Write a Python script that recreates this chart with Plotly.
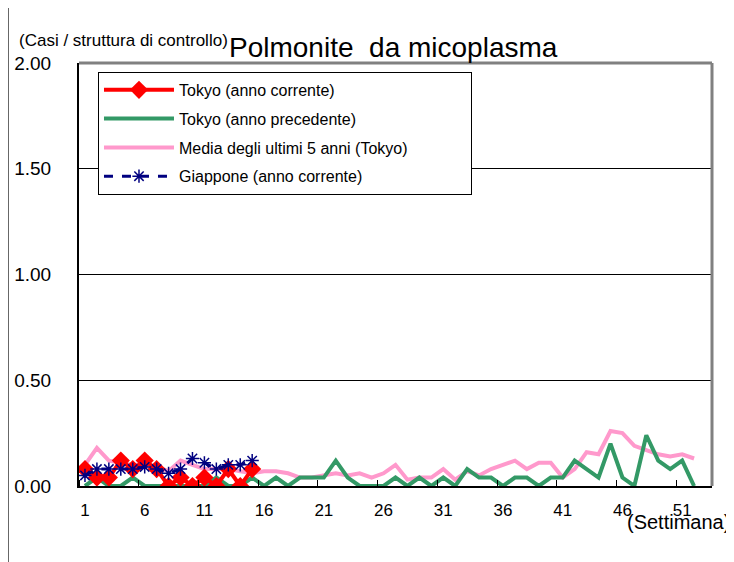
import plotly.graph_objects as go

# week numbers
weeks_all = list(range(1, 53))
weeks_now = list(range(1, 16))

# cases per sentinel site
tokyo_now = [0.08, 0.04, 0.04, 0.12, 0.08, 0.12, 0.08, 0.00, 0.04, 0.00,
             0.04, 0.00, 0.08, 0.00, 0.08]
tokyo_prev = [0.00, 0.04, 0.00, 0.00, 0.04, 0.00, 0.00, 0.00, 0.00, 0.00,
              0.00, 0.04, 0.00, 0.00, 0.04, 0.00, 0.04, 0.00, 0.04, 0.04,
              0.04, 0.12, 0.04, 0.00, 0.00, 0.00, 0.04, 0.00, 0.04, 0.00,
              0.04, 0.00, 0.08, 0.04, 0.04, 0.00, 0.04, 0.04, 0.00, 0.04,
              0.04, 0.12, 0.08, 0.04, 0.20, 0.04, 0.00, 0.24, 0.12, 0.08,
              0.12, 0.00]
avg_5y = [0.10, 0.18, 0.12, 0.11, 0.10, 0.10, 0.09, 0.07, 0.12, 0.10,
          0.08, 0.08, 0.08, 0.07, 0.06, 0.07, 0.07, 0.06, 0.04, 0.04,
          0.05, 0.06, 0.05, 0.06, 0.04, 0.06, 0.10, 0.03, 0.04, 0.04,
          0.08, 0.03, 0.07, 0.05, 0.08, 0.10, 0.12, 0.08, 0.11, 0.11,
          0.04, 0.08, 0.16, 0.15, 0.26, 0.25, 0.19, 0.17, 0.15, 0.14,
          0.15, 0.13]
japan_now = [0.05, 0.08, 0.08, 0.08, 0.08, 0.09, 0.08, 0.06, 0.08, 0.13,
             0.11, 0.08, 0.10, 0.10, 0.12]

x_ticks = [1, 6, 11, 16, 21, 26, 31, 36, 41, 46, 51]
y_ticks = [0, 0.5, 1.0, 1.5, 2.0]

FONT = "Arial, Liberation Sans, sans-serif"
PAD = "\u00a0" * 13

fig = go.Figure()

# drawing order: pink, green, red, blue (legend keeps the original order)
fig.add_trace(go.Scatter(
    x=weeks_all, y=avg_5y, mode="lines",
    name="Media degli ultimi 5 anni (Tokyo)" + PAD,
    line=dict(color="#FF99CC", width=4), legendrank=3, legendgroup="c"
))
fig.add_trace(go.Scatter(
    x=weeks_all, y=tokyo_prev, mode="lines", name="Tokyo (anno precedente)",
    line=dict(color="#339966", width=4), legendrank=2, legendgroup="b"
))
fig.add_trace(go.Scatter(
    x=weeks_now, y=tokyo_now, mode="lines+markers", name="Tokyo (anno corrente)",
    line=dict(color="#FF0000", width=4),
    marker=dict(symbol="diamond", size=14, color="#FF0000"),
    legendrank=1, legendgroup="a"
))
fig.add_trace(go.Scatter(
    x=weeks_now, y=japan_now, mode="lines+markers", name="Giappone (anno corrente)",
    line=dict(color="#000080", width=3, dash="dash"),
    marker=dict(symbol="asterisk-open", size=11, line=dict(color="#000080", width=1.5)),
    legendrank=4, legendgroup="d"
))

# the page adds an 8px body margin, so margins are shifted by that much
fig.update_layout(
    width=734, height=562,
    margin=dict(l=71, r=30, t=55, b=84),
    paper_bgcolor="white", plot_bgcolor="white",
    font=dict(family=FONT, color="black"),
    showlegend=True,
    legend=dict(
        x=0.03, y=0.979, xanchor="left", yanchor="top",
        bgcolor="white", bordercolor="black", borderwidth=1,
        font=dict(size=16), itemwidth=70, tracegroupgap=5,
    ),
    xaxis=dict(
        range=[0.5, 53.5], tickmode="array", tickvals=x_ticks,
        ticks="", showgrid=False, zeroline=False, automargin=False,
        showline=True, linecolor="black", linewidth=2,
        tickfont=dict(size=17), ticklabelstandoff=8,
        minor=dict(tickmode="array", tickvals=[v - 0.5 for v in x_ticks],
                   ticks="inside", ticklen=6, tickcolor="black", tickwidth=1,
                   showgrid=False),
    ),
    yaxis=dict(
        range=[0, 2], tickmode="array", tickvals=y_ticks, tickformat=".2f",
        ticks="", showgrid=True, gridcolor="black", gridwidth=1,
        zeroline=False, showline=True, linecolor="black", linewidth=2,
        automargin=False, tickfont=dict(size=19), ticklabelstandoff=22,
    ),
    shapes=[
        # gray top and right frame
        dict(type="line", xref="paper", yref="paper", x0=0, x1=1, y0=1, y1=1,
             line=dict(color="#808080", width=3)),
        dict(type="line", xref="paper", yref="paper", x0=1, x1=1, y0=0, y1=1,
             line=dict(color="#808080", width=3)),
        # outer left border of the picture
        dict(type="line", xref="paper", yref="paper", x0=-0.112, x1=-0.112,
             y0=-0.2, y1=1.2, line=dict(color="black", width=1)),
    ],
    annotations=[
        dict(text="Polmonite  da micoplasma", xref="paper", yref="paper",
             x=0.497, y=1.036, xanchor="center", yanchor="middle",
             showarrow=False, font=dict(size=28)),
        dict(text="(Casi / struttura di controllo)", xref="paper", yref="paper",
             x=-0.098, y=1.054, xanchor="left", yanchor="middle",
             showarrow=False, font=dict(size=17)),
        dict(text="(Settimana)", xref="paper", yref="paper",
             x=1.032, y=-0.085, xanchor="right", yanchor="middle",
             showarrow=False, font=dict(size=20)),
    ],
)

fig.write_html("out.html")
